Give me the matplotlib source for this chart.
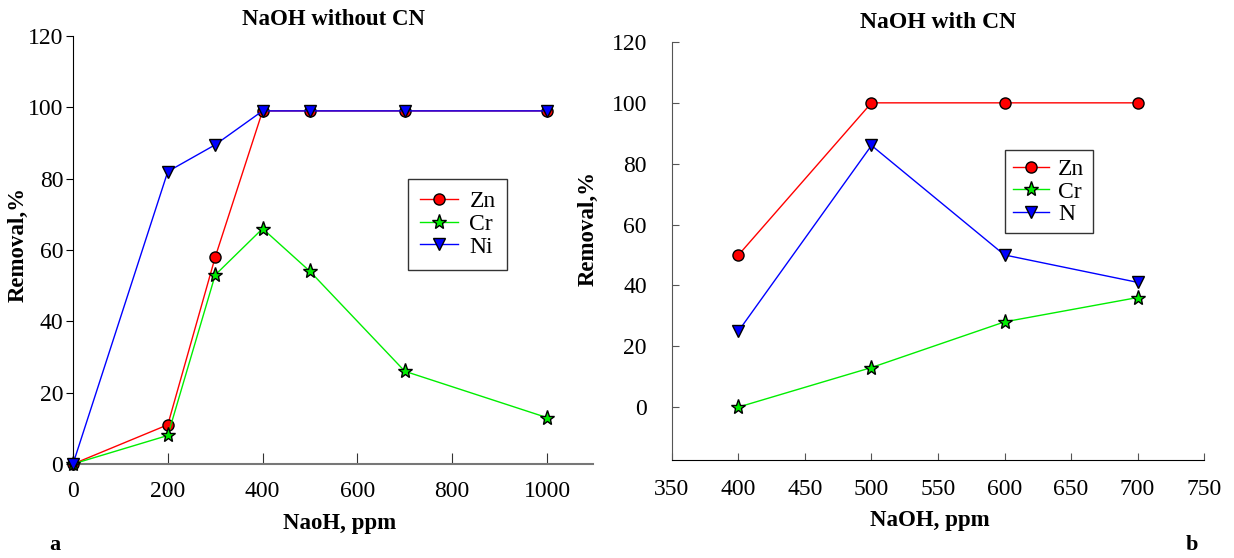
import matplotlib
matplotlib.use('Agg')
import matplotlib.pyplot as plt

plt.rcParams['font.family'] = ['Liberation Serif', 'DejaVu Serif']

# panel a: NaOH without CN
dose_a = [0, 200, 300, 400, 500, 700, 1000]
zn_a = [0, 11, 58, 99, 99, 99, 99]
cr_a = [0, 8, 53, 66, 54, 26, 13]
ni_a = [0, 82, 89.5, 99, 99, 99, 99]
xticks_a = [0, 200, 400, 600, 800, 1000]
yticks_a = [0, 20, 40, 60, 80, 100, 120]

# panel b: NaOH with CN
dose_b = [400, 500, 600, 700]
zn_b = [50, 100, 100, 100]
cr_b = [0, 13, 28, 36]
ni_b = [25, 86, 50, 41]
xticks_b = [350, 400, 450, 500, 550, 600, 650, 700, 750]
yticks_b = [0, 20, 40, 60, 80, 100, 120]

W, H = 1234, 558
fig = plt.figure(figsize=(W / 100, H / 100), dpi=100)

def box(x0, y0, x1, y1):
    return [x0 / W, 1 - y1 / H, (x1 - x0) / W, (y1 - y0) / H]

ms = 8
mk = dict(markeredgecolor='black', markeredgewidth=1.0, clip_on=False, zorder=3)

# ----- panel a -----
ax1 = fig.add_axes(box(73, 36, 593, 464))
ax1.plot(dose_a, zn_a, color='red', lw=1, marker='o', markerfacecolor='red', markersize=ms, label='Zn', **mk)
ax1.plot(dose_a, cr_a, color='#00ee00', lw=1, marker='*', markerfacecolor='#00ee00', markersize=ms + 3, label='Cr', **mk)
ax1.plot(dose_a, ni_a, color='blue', lw=1, marker='v', markerfacecolor='blue', markersize=ms, label='Ni', **mk)
ax1.set_xlim(0, 1097)
ax1.set_ylim(0, 120)
ax1.set_xticks(xticks_a)
ax1.set_yticks(yticks_a)
ax1.spines['top'].set_visible(False)
ax1.spines['right'].set_visible(False)
ax1.spines['bottom'].set_color('#777777')
ax1.spines['bottom'].set_linewidth(1.5)
ax1.tick_params(axis='y', direction='out', length=5, labelsize=17, pad=2)
ax1.tick_params(axis='x', direction='in', length=8, labelsize=17, pad=12, color='#333333')
ax1.set_title('NaOH without CN', fontsize=16.5, fontweight='bold', pad=8)
ax1.set_xlabel('NaoH, ppm', fontsize=16.5, fontweight='bold')
ax1.xaxis.set_label_coords((340 - 73) / 520, -(513 - 464) / 428)
ax1.set_ylabel('Removal,%', fontsize=16.5, fontweight='bold')
ax1.yaxis.set_label_coords((29 - 73) / 520, (464 - 245) / 428)
leg1 = ax1.legend(loc='upper left', bbox_to_anchor=((408 - 73) / 520, 1 - (179 - 36) / 428),
                  borderaxespad=0, fontsize=17, frameon=True, fancybox=False, edgecolor='black',
                  handlelength=1.6, borderpad=0.5, labelspacing=0.05, handletextpad=0.5)
leg1.get_frame().set_linewidth(1)
fig.text(55 / W, 1 - 545 / H, 'a', fontsize=16, fontweight='bold', ha='center', va='center')

# ----- panel b -----
ax2 = fig.add_axes(box(672, 42, 1204, 460))
ax2.plot(dose_b, zn_b, color='red', lw=1, marker='o', markerfacecolor='red', markersize=ms, label='Zn', **mk)
ax2.plot(dose_b, cr_b, color='#00ee00', lw=1, marker='*', markerfacecolor='#00ee00', markersize=ms + 3, label='Cr', **mk)
ax2.plot(dose_b, ni_b, color='blue', lw=1, marker='v', markerfacecolor='blue', markersize=ms, label='N', **mk)
ax2.set_xlim(350, 750)
ax2.set_ylim(-17.4, 120)
ax2.set_xticks(xticks_b)
ax2.set_yticks(yticks_b)
ax2.spines['top'].set_visible(False)
ax2.spines['right'].set_visible(False)
ax2.spines['left'].set_color('#555555')
ax2.tick_params(axis='y', direction='in', length=5, labelsize=17, pad=18, color='#555555')
ax2.tick_params(axis='x', direction='in', length=5, labelsize=17, pad=14, color='#555555')
ax2.set_title('NaOH with CN', fontsize=17, fontweight='bold', pad=10)
ax2.set_xlabel('NaOH, ppm', fontsize=16.5, fontweight='bold')
ax2.xaxis.set_label_coords((930 - 672) / 532, -(510 - 460) / 418)
ax2.set_ylabel('Removal,%', fontsize=16.5, fontweight='bold')
ax2.yaxis.set_label_coords((599 - 672) / 532, (460 - 228) / 418)
leg2 = ax2.legend(loc='upper left', bbox_to_anchor=((1005 - 672) / 532, 1 - (150 - 42) / 418),
                  borderaxespad=0, fontsize=17, frameon=True, fancybox=False, edgecolor='black',
                  handlelength=1.5, borderpad=0.35, labelspacing=0.05, handletextpad=0.4)
leg2.get_frame().set_linewidth(1)
fig.text(1192 / W, 1 - 545 / H, 'b', fontsize=16, fontweight='bold', ha='center', va='center')

fig.savefig('out.png', dpi=100)
